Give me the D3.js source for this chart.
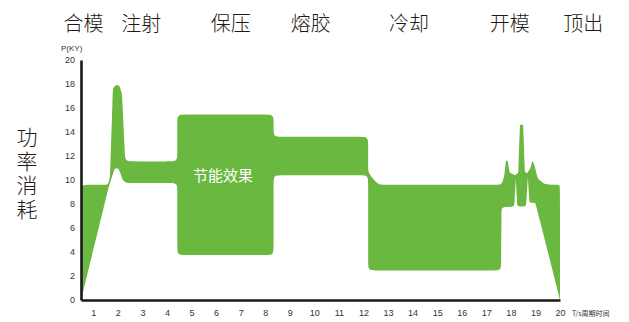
<!DOCTYPE html>
<html><head><meta charset="utf-8">
<script src="https://cdn.jsdelivr.net/npm/d3@7"></script>
<style>body{margin:0;background:#fff}</style>
</head><body><svg id="c" width="629" height="322"></svg>
<script>
// ---- data ----
const phases = ["合模","注射","保压","熔胶","冷却","开模","顶出"];
const phaseTimes = [0.6, 2.95, 6.6, 9.85, 13.85, 17.95, 20.95];
const xTickValues = [1,2,3,4,5,6,7,8,9,10,11,12,13,14,15,16,17,18,19,20];
const yTickValues = [0,2,4,6,8,10,12,14,16,18,20];
const yAxisTitle = "功率消耗";
const yUnitLabel = "P(KY)";
const xUnitLabel = "T/s周期时间";
const noteText = "节能效果";
const noteAt = [6.28, 10.5];
// upper boundary of the power band (time, power)
const upperEdge = [
  [0.5,9.6],[1.6,9.6],[1.68,10.3],[1.8,17.6],[1.9,17.9],[2.05,17.9],[2.17,17.2],[2.3,11.55],
  [4.42,11.55],[4.42,15.45],[8.34,15.45],[8.34,13.6],[12.19,13.6],[12.19,10.6],[12.6,9.6],
  [17.6,9.6],[17.72,10.2],[17.8,11.6],[17.87,11.6],[17.95,10.6],[18.17,10.4],[18.3,10.6],
  [18.37,14.6],[18.5,14.6],[18.57,10.7],[18.66,10.55],[18.8,11.0],[18.87,11.6],[18.95,11.3],
  [19.1,10.1],[19.35,9.7],[19.6,9.6],[20,9.6]
];
// lower boundary of the power band (time, power)
const lowerEdge = [
  [0.5,0],[1.64,9.5],[1.72,10.0],[1.87,10.95],[2.03,10.95],[2.2,10.0],[2.35,9.75],
  [4.42,9.75],[4.42,3.75],[8.34,3.75],[8.34,10.4],[12.19,10.4],[12.19,2.45],[17.6,2.45],
  [17.62,7.75],[18.14,7.75],[18.2,10.1],[18.26,7.8],[18.62,7.8],[18.69,10.2],[18.76,8.1],
  [19.0,8.1],[20,0]
];

// ---- drawing ----
const svg = d3.select("#c");
const x = d3.scaleLinear().domain([0.5, 20]).range([81, 560]);
const y = d3.scaleLinear().domain([0, 20]).range([300, 60]);
const green = "#6ab83f";
const ink = "#231815";

// band polygon with rounded corners
const poly = upperEdge.map(d => [x(d[0]), y(d[1])])
  .concat(lowerEdge.slice().reverse().map(d => [x(d[0]), y(d[1])]));
function rounded(p, R) {
  const n = p.length, out = [];
  for (let i = 0; i < n; i++) {
    const v = p[i], a = p[(i - 1 + n) % n], b = p[(i + 1) % n];
    const ax = a[0]-v[0], ay = a[1]-v[1], bx = b[0]-v[0], by = b[1]-v[1];
    const la = Math.hypot(ax, ay), lb = Math.hypot(bx, by);
    if (la < 1e-6 || lb < 1e-6) { out.push(v); continue; }
    const cos = (ax*bx + ay*by) / (la*lb);
    if (cos > 0.5) { out.push(v, v, v); continue; }
    const r = Math.min(R, 0.45*la, 0.45*lb);
    out.push([v[0]+ax/la*r, v[1]+ay/la*r], v, [v[0]+bx/lb*r, v[1]+by/lb*r]);
  }
  return out;
}
svg.append("path")
  .attr("d", d3.line().curve(d3.curveBasisClosed)(rounded(poly, 8)))
  .attr("fill", green);

svg.append("text")
  .attr("x", x(noteAt[0])).attr("y", y(noteAt[1]))
  .attr("text-anchor", "middle").attr("dominant-baseline", "central")
  .attr("font-family", "'Noto Sans CJK SC'").attr("font-size", 15)
  .attr("fill", "#fff").text(noteText);

// axes
const xAxis = svg.append("g").attr("transform", "translate(0,300)")
  .call(d3.axisBottom(x).tickValues(xTickValues).tickSize(0).tickSizeOuter(0).tickPadding(10));
const yAxis = svg.append("g").attr("transform", "translate(81,0)")
  .call(d3.axisLeft(y).tickValues(yTickValues).tickSize(0).tickSizeOuter(0).tickPadding(6));
[xAxis, yAxis].forEach(g => {
  g.select(".domain").attr("stroke", "#1a1a1a").attr("stroke-width", 2.6);
  g.selectAll("text").attr("font-family", "'Liberation Sans', Arial, sans-serif")
    .attr("font-size", 9).attr("fill", "#333");
});

svg.append("text").attr("x", 61).attr("y", 51)
  .attr("font-family", "'Liberation Sans', Arial, sans-serif").attr("font-size", 8)
  .attr("fill", "#333").text(yUnitLabel);
svg.append("text").attr("x", 572).attr("y", 316)
  .attr("font-family", "'Noto Sans CJK SC'").attr("font-size", 7)
  .attr("fill", "#333").text(xUnitLabel);

// phase labels
svg.append("g").selectAll("text").data(phases).join("text")
  .attr("x", (d, i) => x(phaseTimes[i])).attr("y", 31)
  .attr("text-anchor", "middle")
  .attr("font-family", "'Noto Sans CJK SC'").attr("font-size", 20).attr("font-weight", 300)
  .attr("fill", ink).text(d => d);

// vertical y title (single text, vertical writing)
svg.append("text")
  .attr("x", 27).attr("y", 127)
  .attr("style", "writing-mode: vertical-rl; letter-spacing: 3px")
  .attr("font-family", "'Noto Sans CJK SC'").attr("font-size", 21).attr("font-weight", 300)
  .attr("fill", ink).text(yAxisTitle);
</script></body></html>
